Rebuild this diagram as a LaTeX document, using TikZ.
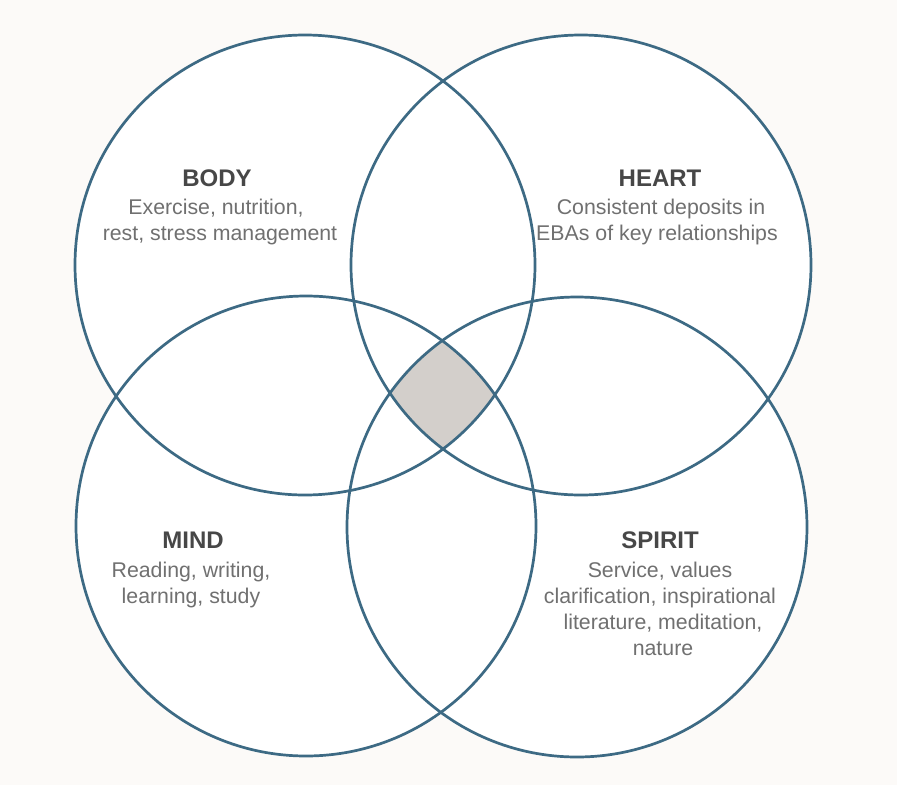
\documentclass[tikz,border=0pt]{standalone}
\usepackage{fontspec}
\setmainfont{Liberation Sans}
\definecolor{bgcol}{HTML}{FCFAF8}
\definecolor{ringcol}{HTML}{3D6A84}
\definecolor{corecol}{HTML}{D3CFCB}
\definecolor{headcol}{HTML}{474747}
\definecolor{txtcol}{HTML}{707070}
\tikzset{
  ring/.style={circle, minimum size=460pt, inner sep=0pt, draw=ringcol, line width=2.7pt},
  headtext/.style={anchor=base, inner sep=0pt, text=headcol, font=\fontsize{24}{28}\selectfont\bfseries},
  bodytext/.style={anchor=base, inner sep=0pt, text=txtcol, font=\fontsize{21.3}{26}\selectfont},
}
\begin{document}
\begin{tikzpicture}[x=1pt, y=-1pt]
\fill[bgcol] (0,0) rectangle (897,785);
\useasboundingbox (0,0) rectangle (897,785);
% white interiors
\foreach \c in {(305,265),(581,265),(306,526),(577,527)}
  \fill[white] \c circle (230);
% grey core
\begin{scope}
  \clip (305,265) circle (230);
  \clip (581,265) circle (230);
  \clip (306,526) circle (230);
  \fill[corecol] (577,527) circle (230);
\end{scope}
% circles
\node[ring] (body) at (305,265) {};
\node[ring] (heart) at (581,265) {};
\node[ring] (mind) at (306,526) {};
\node[ring] (spirit) at (577,527) {};
% BODY
\node[headtext] (bodyt) at (217,186) {BODY};
\node[bodytext] (body1) at (216,214) {Exercise, nutrition,};
\node[bodytext] (body2) at (220,240) {rest, stress management};
% HEART
\node[headtext] (heartt) at (660,186) {HEART};
\node[bodytext] (heart1) at (661,214) {Consistent deposits in};
\node[bodytext] (heart2) at (657,240) {EBAs of key relationships};
% MIND
\node[headtext] (mindt) at (193,548) {MIND};
\node[bodytext] (mind1) at (191,577) {Reading, writing,};
\node[bodytext] (mind2) at (191,603) {learning, study};
% SPIRIT
\node[headtext] (spiritt) at (660,548) {SPIRIT};
\node[bodytext] (spirit1) at (660,577) {Service, values};
\node[bodytext] (spirit2) at (660,603) {clarification, inspirational};
\node[bodytext] (spirit3) at (663,629) {literature, meditation,};
\node[bodytext] (spirit4) at (663,655) {nature};
\end{tikzpicture}
\end{document}
